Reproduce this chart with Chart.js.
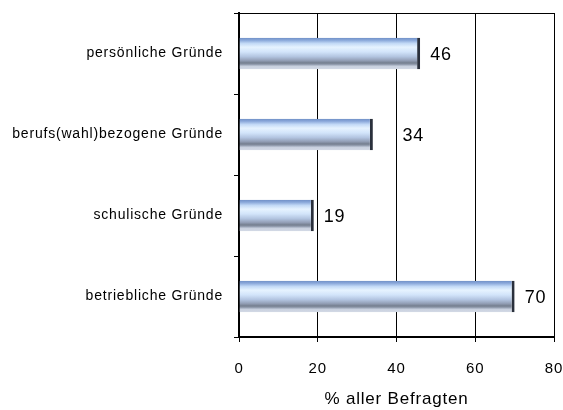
<!DOCTYPE html>
<html>
<head>
<meta charset="utf-8">
<script src="https://cdn.jsdelivr.net/npm/chart.js@4"></script>
<style>
  html, body { margin: 0; padding: 0; background: #fff; }
</style>
</head>
<body>
<canvas id="gruendeChart" width="563" height="410"></canvas>
<script>
// Daten (von oben nach unten)
const categories = ['persönliche Gründe', 'berufs(wahl)bezogene Gründe', 'schulische Gründe', 'betriebliche Gründe'];
const percentValues = [46, 34, 19, 70];
const xTicks = [0, 20, 40, 60, 80];
const xTitle = '% aller Befragten';

const barPct = 0.39;

Chart.defaults.font.family = 'Arial, "Liberation Sans", sans-serif';
Chart.defaults.color = '#000';

// Glanz-Verlauf für die Balken (wie Excel 3D-Röhre)
function barGradient(context) {
  const chart = context.chart;
  if (!chart.chartArea) return '#b8cff0';
  const y = chart.scales.y;
  const center = y.getPixelForValue(context.dataIndex);
  const band = Math.abs(y.getPixelForValue(1) - y.getPixelForValue(0));
  const half = band * barPct / 2;
  const g = chart.ctx.createLinearGradient(0, center - half, 0, center + half);
  g.addColorStop(0, '#6f8fc6');
  g.addColorStop(0.08, '#8aa8da');
  g.addColorStop(0.18, '#c2d9f6');
  g.addColorStop(0.3, '#e6f3ff');
  g.addColorStop(0.45, '#d2e4fa');
  g.addColorStop(0.6, '#b2c4e0');
  g.addColorStop(0.72, '#939fb6');
  g.addColorStop(0.8, '#747e8e');
  g.addColorStop(0.86, '#9aa4b6');
  g.addColorStop(0.9, '#c8d0de');
  g.addColorStop(1, '#d4dae6');
  return g;
}

// etwas Zeichenabstand wie im Original
const spacingPlugin = {
  id: 'spacing',
  beforeUpdate(chart) { chart.ctx.letterSpacing = '0.8px'; },
  beforeDraw(chart) { chart.ctx.letterSpacing = '0.8px'; }
};

// obere Rahmenlinie
const framePlugin = {
  id: 'frame',
  afterDraw(chart) {
    const a = chart.chartArea;
    const ctx = chart.ctx;
    ctx.save();
    ctx.strokeStyle = '#000';
    ctx.lineWidth = 1;
    ctx.beginPath();
    ctx.moveTo(a.left, a.top + 0.5);
    ctx.lineTo(a.right, a.top + 0.5);
    ctx.stroke();
    ctx.restore();
  }
};

// Wertebeschriftung rechts neben den Balken
const valueLabels = {
  id: 'valueLabels',
  afterDatasetsDraw(chart) {
    const ctx = chart.ctx;
    const xs = chart.scales.x;
    const grid = xTicks.map(t => xs.getPixelForValue(t));
    ctx.save();
    ctx.font = '18px Arial, "Liberation Sans", sans-serif';
    ctx.fillStyle = '#000';
    ctx.textAlign = 'left';
    ctx.textBaseline = 'middle';
    chart.getDatasetMeta(0).data.forEach((bar, i) => {
      const txt = String(percentValues[i]);
      const w = ctx.measureText(txt).width;
      let x = bar.x + 10;
      // nicht über eine Gitterlinie schreiben
      grid.forEach(gx => {
        if (gx > x && gx < x + w) x = gx + 6;
      });
      ctx.fillText(txt, x, bar.y + 2);
    });
    ctx.restore();
  }
};

function noPad(scale) {
  scale.paddingLeft = 0;
  scale.paddingRight = 0;
  scale.paddingTop = 0;
  scale.paddingBottom = 0;
}

new Chart(document.getElementById('gruendeChart'), {
  type: 'bar',
  data: {
    labels: categories,
    datasets: [{
      data: percentValues,
      backgroundColor: barGradient,
      borderColor: '#2a303c',
      borderWidth: { right: 3, left: 0, top: 0, bottom: 0 },
      borderSkipped: false,
      categoryPercentage: 1,
      barPercentage: barPct
    }]
  },
  options: {
    indexAxis: 'y',
    responsive: false,
    animation: false,
    devicePixelRatio: 1,
    layout: { padding: { top: 13, right: 9, left: 0, bottom: 0 } },
    plugins: {
      legend: { display: false },
      tooltip: { enabled: false }
    },
    scales: {
      x: {
        min: 0,
        max: 80,
        afterBuildTicks: scale => { scale.ticks = xTicks.map(v => ({ value: v })); },
        afterFit: scale => { scale.height = 73; noPad(scale); },
        grid: { color: '#000', lineWidth: 1, tickLength: 5, tickColor: '#000' },
        border: { color: '#000', width: 2 },
        ticks: { font: { size: 15 }, padding: 18 },
        title: {
          display: true,
          text: xTitle,
          font: { size: 17 },
          padding: { top: 0, bottom: 0 }
        }
      },
      y: {
        afterFit: scale => { scale.width = 239; noPad(scale); },
        grid: { drawOnChartArea: false, tickLength: 5, tickColor: '#000' },
        border: { color: '#000', width: 2 },
        ticks: { font: { size: 14 }, padding: 11 }
      }
    }
  },
  plugins: [spacingPlugin, framePlugin, valueLabels]
});
</script>
</body>
</html>
